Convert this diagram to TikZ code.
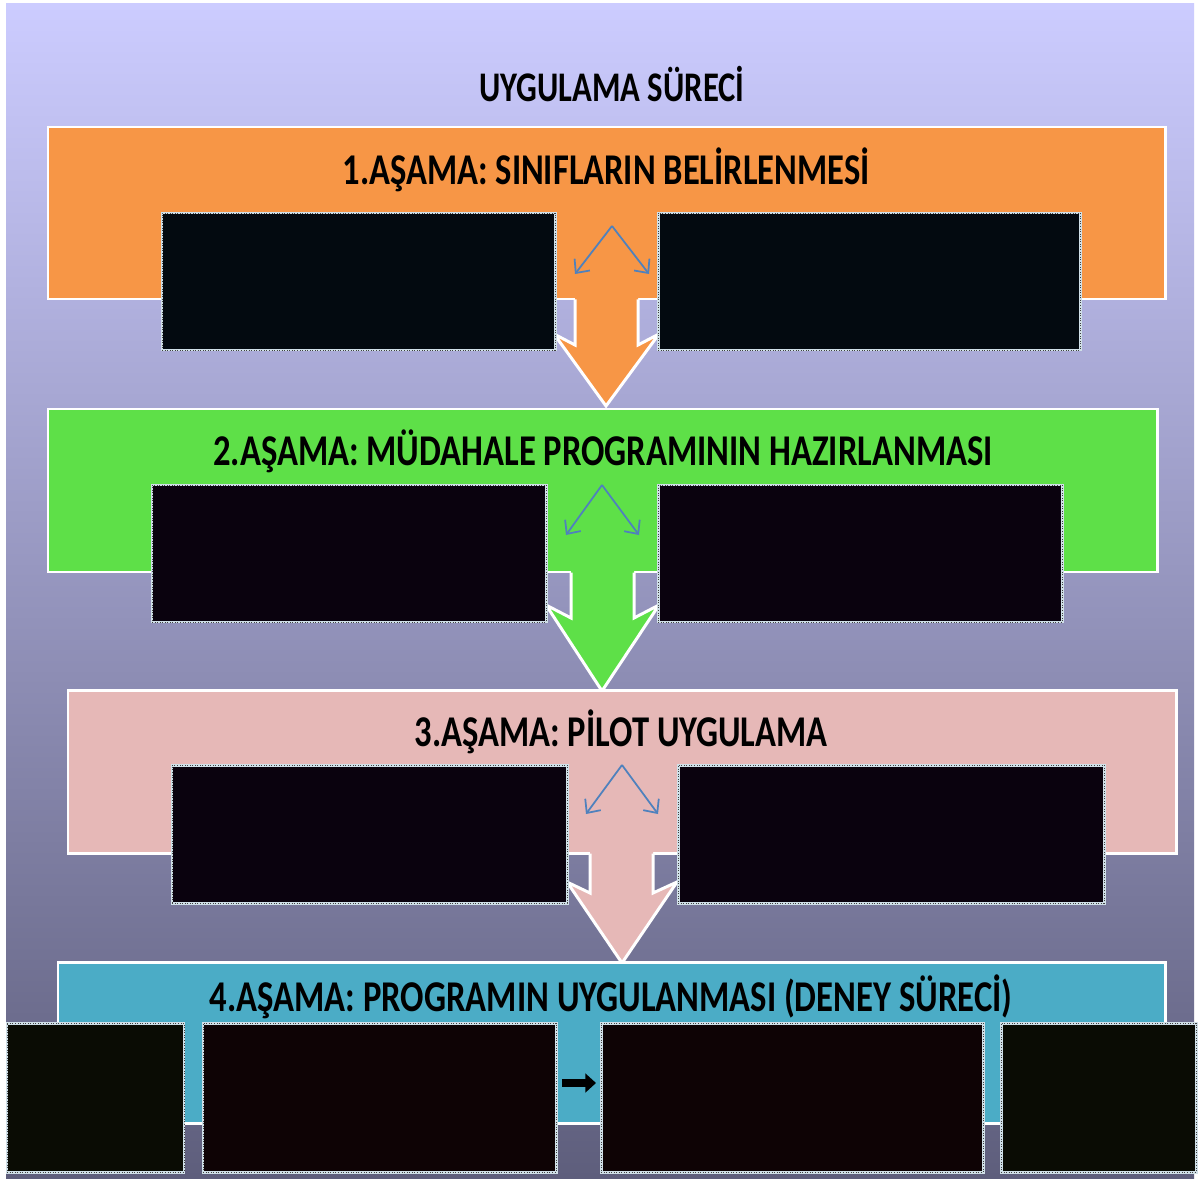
\documentclass[tikz,border=0pt]{standalone}
\usepackage{fontspec}
\setmainfont{Carlito}
\usetikzlibrary{arrows.meta,fit}
\definecolor{bgtop}{RGB}{204,204,255}
\definecolor{bgbot}{RGB}{94,94,124}
\definecolor{orangeband}{RGB}{247,150,70}
\definecolor{greenband}{RGB}{94,224,72}
\definecolor{pinkband}{RGB}{230,184,183}
\definecolor{tealband}{RGB}{75,172,198}
\definecolor{linkblue}{RGB}{79,129,189}
\definecolor{boxedge}{RGB}{208,224,232}
\definecolor{darkblue}{RGB}{3,10,16}
\definecolor{darkpurple}{RGB}{10,2,14}
\definecolor{darkred}{RGB}{14,3,5}
\definecolor{darkolive}{RGB}{10,12,4}
\tikzset{
  band/.style={draw=white, line width=1.7pt, inner sep=0pt, outer sep=0pt},
  stagetitle/.style={font=\bfseries\fontsize{25}{29}\selectfont, inner sep=0pt, text=black},
  darkbox/.style={draw=boxedge, line width=1.7pt, inner sep=0pt, outer sep=0pt,
    postaction={draw=black!75, densely dotted, line width=0.45pt}},
  blockarrow/.style={draw=white, line width=1.7pt, line join=miter},
  linkarrow/.style={draw=linkblue, line width=1pt, -{Straight Barb[length=6pt,width=11pt]}},
  flowarrow/.style={draw=black, line width=4.8pt, -{Triangle[length=6pt,width=10.5pt]}}
}
\begin{document}
\begin{tikzpicture}[x=0.02cm,y=-0.02cm]
\useasboundingbox (0,0) rectangle (1199,1182);
\fill[white] (0,0) rectangle (1199,1182);
\shade[top color=bgtop, bottom color=bgbot] (6,4) rectangle (1194,1178);

\node[stagetitle, font=\bfseries\fontsize{24}{28}\selectfont] (title) at (612,84)
  {\resizebox{5.3cm}{\height}{UYGULAMA SÜRECİ}};

% ---- stage 1
\node[band, fill=orangeband, fit={(48,127) (1165,299)}] (s1) {};
\node[stagetitle] (t1) at (606,170) {\resizebox{10.54cm}{\height}{1.AŞAMA: SINIFLARIN BELİRLENMESİ}};
\fill[orangeband] (575,290) -- (575,345) -- (554,334) -- (606,406) -- (659,334) -- (638,345) -- (638,290) -- cycle;
\draw[blockarrow] (575,299.5) -- (575,345) -- (554,334) -- (606,406) -- (659,334) -- (638,345) -- (638,299.5);
\coordinate (a1) at (612,226);
\coordinate (l1) at (575,274);
\coordinate (r1) at (649,274);
\draw[linkarrow] (a1) -- (l1);
\draw[linkarrow] (a1) -- (r1);
\node[darkbox, fill=darkblue, fit={(162,213) (555,350)}] (b1l) {};
\node[darkbox, fill=darkblue, fit={(658,213) (1080,350)}] (b1r) {};

% ---- stage 2
\node[band, fill=greenband, fit={(48,409) (1157,572)}] (s2) {};
\node[stagetitle] (t2) at (603,451) {\resizebox{15.6cm}{\height}{2.AŞAMA: MÜDAHALE PROGRAMININ HAZIRLANMASI}};
\fill[greenband] (571,563) -- (571,618) -- (546,605) -- (602,691) -- (659,605) -- (634,618) -- (634,563) -- cycle;
\draw[blockarrow] (571,572.5) -- (571,618) -- (546,605) -- (602,691) -- (659,605) -- (634,618) -- (634,572.5);
\coordinate (a2) at (602,485);
\coordinate (l2) at (566,535);
\coordinate (r2) at (639,535);
\draw[linkarrow] (a2) -- (l2);
\draw[linkarrow] (a2) -- (r2);
\node[darkbox, fill=darkpurple, fit={(152,485) (546,622)}] (b2l) {};
\node[darkbox, fill=darkpurple, fit={(658,485) (1062,622)}] (b2r) {};

% ---- stage 3
\node[band, fill=pinkband, fit={(68,690) (1176,853)}] (s3) {};
\node[stagetitle] (t3) at (621,732) {\resizebox{8.26cm}{\height}{3.AŞAMA: PİLOT UYGULAMA}};
\fill[pinkband] (590,844) -- (590,893) -- (567,882) -- (622,963) -- (677,882) -- (653,893) -- (653,844) -- cycle;
\draw[blockarrow] (590,853.5) -- (590,893) -- (567,882) -- (622,963) -- (677,882) -- (653,893) -- (653,853.5);
\coordinate (a3) at (622,765);
\coordinate (l3) at (586,814);
\coordinate (r3) at (658,814);
\draw[linkarrow] (a3) -- (l3);
\draw[linkarrow] (a3) -- (r3);
\node[darkbox, fill=darkpurple, fit={(172,765) (567,903)}] (b3l) {};
\node[darkbox, fill=darkpurple, fit={(678,765) (1104,903)}] (b3r) {};

% ---- stage 4
\node[band, fill=tealband, fit={(58,962) (1165,1123)}] (s4) {};
\node[stagetitle] (t4) at (611,997) {\resizebox{16.06cm}{\height}{4.AŞAMA: PROGRAMIN UYGULANMASI (DENEY SÜRECİ)}};
\node[darkbox, fill=darkolive, fit={(7,1023) (184,1172)}] (b4a) {};
\node[darkbox, fill=darkred, fit={(203,1023) (556,1172)}] (b4b) {};
\node[darkbox, fill=darkred, fit={(601,1023) (983,1172)}] (b4c) {};
\node[darkbox, fill=darkolive, fit={(1001,1023) (1196,1172)}] (b4d) {};
\draw[flowarrow, shorten <=0.12cm, shorten >=0.1cm] ([yshift=0.29cm]b4b.east) -- ([yshift=0.29cm]b4c.west);
\end{tikzpicture}
\end{document}
